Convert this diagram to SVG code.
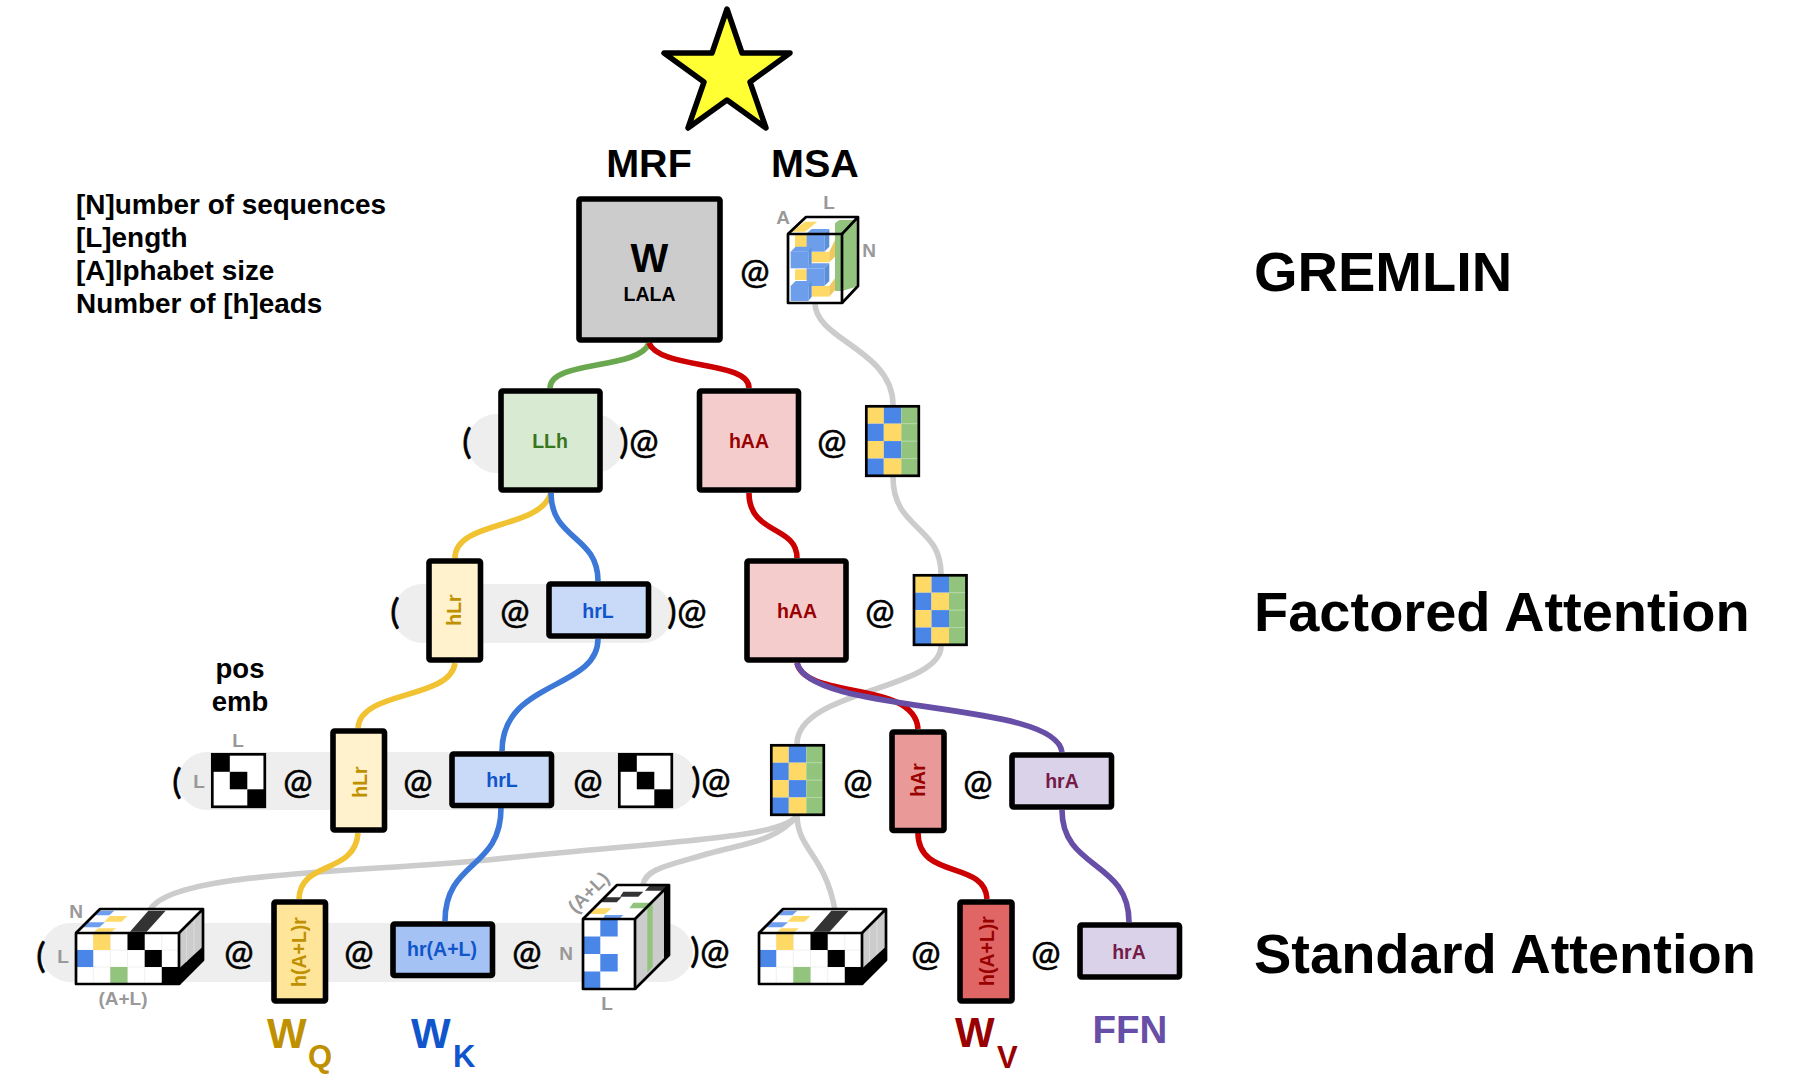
<svg xmlns="http://www.w3.org/2000/svg" xmlns:xlink="http://www.w3.org/1999/xlink" width="1804" height="1088" viewBox="0 0 1804 1088">
<style>
text{font-family:"Liberation Sans",Arial,sans-serif;font-weight:bold;text-anchor:middle}
.at{font-family:"Lato",sans-serif;font-weight:400;font-size:35px;fill:#000;stroke:#000;stroke-width:.6}
.title{font-size:39.5px;fill:#000}
.side{font-size:56px;text-anchor:start}
.info{font-size:27.9px;text-anchor:start}
.dim{font-size:19px;fill:#999}
.lab{font-size:19.5px}
.box{stroke:#000;stroke-width:5.6;stroke-linejoin:round}
.wire{fill:none;stroke-width:5.6;stroke-linecap:butt}
.pill{fill:#eeeeee}
.o{fill:none;stroke:#000;stroke-width:2.7;stroke-linejoin:round}
.big{font-size:42px;text-anchor:start}
.sub{font-size:31px;text-anchor:start}
.y{fill:#ffd966}.b{fill:#4a86e8}.g{fill:#93c47d}
.grid{fill:none;stroke:#000;stroke-width:2.7}
</style>
<defs>
<g id="seq">
<rect width="52.5" height="69.5" fill="#fff"/>
<rect class="y" x="0" y="0" width="17.5" height="17.4"/><rect class="b" x="17.5" y="0" width="17.5" height="17.4"/><rect class="g" x="35" y="0" width="17.5" height="17.4"/>
<rect class="b" x="0" y="17.4" width="17.5" height="17.4"/><rect class="y" x="17.5" y="17.4" width="17.5" height="17.4"/><rect class="g" x="35" y="17.4" width="17.5" height="17.4"/>
<rect class="y" x="0" y="34.8" width="17.5" height="17.4"/><rect class="b" x="17.5" y="34.8" width="17.5" height="17.4"/><rect class="g" x="35" y="34.8" width="17.5" height="17.4"/>
<rect class="b" x="0" y="52.2" width="17.5" height="17.3"/><rect class="y" x="17.5" y="52.2" width="17.5" height="17.3"/><rect class="g" x="35" y="52.2" width="17.5" height="17.3"/>
<path d="M35 17.4H52.5M35 34.8H52.5M35 52.2H52.5" stroke="#b6d7a8" stroke-width="1" fill="none"/>
<rect class="grid" width="52.5" height="69.5"/>
</g>
<g id="pos">
<rect width="52.5" height="52.5" fill="#fff"/>
<rect x="0" y="0" width="17.5" height="17.5"/><rect x="17.5" y="17.5" width="17.5" height="17.5"/><rect x="35" y="35" width="17.5" height="17.5"/>
<rect class="grid" width="52.5" height="52.5"/>
</g>
<g id="cubeWide">
<polygon points="0,0 103,0 127,-24 24,-24" fill="#fff"/>
<g transform="translate(-56 -53) scale(.3333)">
<polygon class="b" opacity=".8" points="240,92 283,92 268,106 225,106"/>
<polygon class="y" points="270,108 322,108 305,125 253,125"/>
<polygon class="b" opacity=".8" points="205,127 255,127 238,142 188,142"/>
<polygon class="y" points="235,145 288,145 275,155 222,155"/>
<polygon fill="#333" points="330,155 380,155 437,92 385,92"/>
<polygon fill="#ccc" points="478,158 548,87 548,200 478,265"/>
<polygon fill="#000" points="478,265 548,200 548,240 478,313"/>
<path d="M500 135V245M522 112V222" stroke="#e4e4e4" stroke-width="2" fill="none"/>
</g>
<rect width="103" height="51" fill="#fff"/>
<path d="M17.2 0V51M34.3 0V51M51.5 0V51M68.7 0V51M85.8 0V51M0 17H103M0 34H103" stroke="#f0f0f0" stroke-width="1" fill="none"/>
<rect class="y" x="17.2" y="0" width="17.1" height="17"/>
<rect class="b" x="0" y="17" width="17.2" height="17"/>
<rect class="g" x="34.3" y="34" width="17.2" height="17"/>
<rect x="51.5" y="0" width="17.2" height="17"/><rect x="68.7" y="17" width="17.1" height="17"/><rect x="85.8" y="34" width="17.2" height="17"/>
<rect class="o" width="103" height="51"/>
<path class="o" d="M0 0L24 -24H127V27L103 51M103 0L127 -24"/>
</g>
</defs>
<rect width="1804" height="1088" fill="#fff"/>

<g id="pills">
<rect class="pill" x="467" y="414" width="157" height="59" rx="29.5"/>
<rect class="pill" x="393" y="584" width="279" height="59" rx="29.5"/>
<rect class="pill" x="178" y="752" width="519" height="58" rx="29"/>
<rect class="pill" x="41" y="923" width="652" height="59" rx="29.5"/>
</g>

<g id="connectors">
<g stroke="#cccccc" class="wire">
<path d="M815 303C815 340 893 350 893 405"/>
<path d="M893 477C893 530 941 525 941 574"/>
<path d="M941 646C941 690 797 690 797 744"/>
<path d="M797 816C780 838 680 840 487 860C350 873 170 872 150 910"/>
<path d="M797 816C775 842 745 843 700 856C665 866 645 870 643 885"/>
<path d="M797 816C798 850 825 855 835 910"/>
</g>
<path class="wire" stroke="#6aa84f" d="M649 343C640 370 550 360 550 388"/>
<path class="wire" stroke="#cc0000" d="M649 343C660 370 749 360 749 388"/>
<path class="wire" stroke="#f1c232" d="M551 493C540 530 455 520 455 558"/>
<path class="wire" stroke="#3c78d8" d="M551 493C551 540 598 535 598 581"/>
<path class="wire" stroke="#cc0000" d="M749 493C749 535 797 525 797 558"/>
<path class="wire" stroke="#f1c232" d="M455 663C450 700 360 690 358 728"/>
<path class="wire" stroke="#3c78d8" d="M598 639C598 690 502 680 502 751"/>
<path class="wire" stroke="#cc0000" d="M797 663C805 700 915 680 918 729"/>
<path class="wire" stroke="#674ea7" d="M797 663C810 715 1055 700 1062 752"/>
<path class="wire" stroke="#f1c232" d="M358 833C355 875 300 860 299 899"/>
<path class="wire" stroke="#3c78d8" d="M501 808C501 870 445 860 445 921"/>
<path class="wire" stroke="#cc0000" d="M918 833C918 880 985 860 987 899"/>
<path class="wire" stroke="#674ea7" d="M1062 810C1062 870 1129 860 1129 922"/>
</g>

<g id="star"><polygon points="727,9 742,53 790,53 750,82 766,128 727,100 688,128 704,82 664,53 712,53" fill="#ffff33" stroke="#000" stroke-width="5.5" stroke-linejoin="round"/></g>

<text class="title" x="649" y="177">MRF</text>
<text class="title" x="815" y="177">MSA</text>

<g id="legend">
<text class="info" x="76" y="214">[N]umber of sequences</text>
<text class="info" x="76" y="247">[L]ength</text>
<text class="info" x="76" y="280">[A]lphabet size</text>
<text class="info" x="76" y="313">Number of [h]eads</text>
</g>

<text class="title side" x="1254" y="291">GREMLIN</text>
<text class="title side" x="1254" y="631">Factored Attention</text>
<text class="title side" x="1254" y="973">Standard Attention</text>

<g id="node-W">
<rect class="box" x="579" y="199" width="141" height="141" fill="#cccccc" rx="1.5"/>
<text x="649.5" y="272" font-size="40">W</text>
<text x="649.5" y="301" font-size="19.5">LALA</text>
</g>
<text class="at" x="755" y="284">@</text>
<g id="node-msa-cube">
<polygon points="788,234 806,217 858,217 858,286 842,303 788,303" fill="#fff"/>
<g transform="translate(560 0) scale(.3333)">
<polygon class="y" points="695,695 735,665 772,665 735,695"/>
<polygon class="g" points="825,670 838,660 890,660 890,860 845,873 825,873"/>
<rect class="y" x="705" y="705" width="40" height="45"/>
<rect class="y" x="755" y="755" width="53" height="32"/><polygon fill="#f1c75f" points="808,755 825,720 825,770 808,787"/>
<rect class="y" x="705" y="808" width="40" height="32"/>
<rect class="y" x="755" y="858" width="53" height="32"/><polygon fill="#f1c75f" points="808,858 825,835 825,870 808,890"/>
<polygon fill="#6d9eeb" points="740,700 755,687 808,687 793,700"/><polygon fill="#5b8fd8" points="793,700 808,687 808,740 793,755"/><rect fill="#6d9eeb" x="740" y="700" width="53" height="55"/>
<polygon fill="#6d9eeb" points="692,755 707,740 755,740 745,755"/><polygon fill="#5b8fd8" points="745,755 755,740 755,790 745,805"/><rect fill="#6d9eeb" x="692" y="755" width="53" height="50"/>
<polygon fill="#6d9eeb" points="740,805 755,790 808,790 793,805"/><polygon fill="#5b8fd8" points="793,805 808,790 808,843 793,858"/><rect fill="#6d9eeb" x="740" y="805" width="53" height="53"/>
<polygon fill="#6d9eeb" points="692,858 707,843 755,843 745,858"/><polygon fill="#5b8fd8" points="745,858 755,843 755,890 745,903"/><rect fill="#6d9eeb" x="692" y="858" width="53" height="45"/>
</g>
<rect class="o" x="788" y="234" width="54" height="69"/>
<path class="o" d="M788 234L806 217H858V286L842 303M842 234L858 217"/>
<text class="dim" x="783" y="224">A</text>
<text class="dim" x="829" y="209">L</text>
<text class="dim" x="869" y="257">N</text>
</g>

<text class="at" x="467" y="454">(</text>
<g id="node-LLh">
<rect class="box" x="501" y="391" width="99" height="99" fill="#d9ead3" rx="1.5"/>
<text class="lab" x="550" y="448" fill="#38761d">LLh</text>
</g>
<text class="at" x="624" y="454">)</text><text class="at" x="644" y="454">@</text>
<g id="node-hAA-1">
<rect class="box" x="699.5" y="391" width="99" height="99" fill="#f4cccc" rx="1.5"/>
<text class="lab" x="749" y="448" fill="#990000">hAA</text>
</g>
<text class="at" x="832" y="454">@</text>
<use id="node-seq-1" href="#seq" xlink:href="#seq" x="866.3" y="406.3"/>

<text class="at" x="395" y="624">(</text>
<g id="node-hLr-1">
<rect class="box" x="429" y="561" width="51.5" height="99" fill="#fff2cc" rx="1.5"/>
<text class="lab" transform="translate(461 610) rotate(-90)" fill="#bf9000">hLr</text>
</g>
<text class="at" x="515" y="624">@</text>
<g id="node-hrL-1">
<rect class="box" x="549" y="584" width="99.5" height="52" fill="#c9daf8" rx="1.5"/>
<text class="lab" x="598" y="618" fill="#1155cc">hrL</text>
</g>
<text class="at" x="672" y="624">)</text><text class="at" x="692" y="624">@</text>
<g id="node-hAA-2">
<rect class="box" x="747" y="561" width="99" height="99" fill="#f4cccc" rx="1.5"/>
<text class="lab" x="797" y="618" fill="#990000">hAA</text>
</g>
<text class="at" x="880" y="624">@</text>
<use id="node-seq-2" href="#seq" xlink:href="#seq" x="914" y="575.3"/>

<g id="pos-label">
<text x="240" y="678" font-size="27.5" fill="#000">pos</text>
<text x="240" y="711" font-size="27.5" fill="#000">emb</text>
</g>
<text class="at" x="177" y="794">(</text>
<text class="dim" x="238" y="747">L</text>
<text class="dim" x="199" y="788">L</text>
<use id="node-pos-1" href="#pos" xlink:href="#pos" x="212.3" y="754.3"/>
<text class="at" x="298" y="794">@</text>
<g id="node-hLr-2">
<rect class="box" x="333" y="731" width="51.5" height="99" fill="#fff2cc" rx="1.5"/>
<text class="lab" transform="translate(367 782) rotate(-90)" fill="#bf9000">hLr</text>
</g>
<text class="at" x="418" y="794">@</text>
<g id="node-hrL-2">
<rect class="box" x="452" y="754" width="99.5" height="51.5" fill="#c9daf8" rx="1.5"/>
<text class="lab" x="502" y="787" fill="#1155cc">hrL</text>
</g>
<text class="at" x="588" y="794">@</text>
<use id="node-pos-2" href="#pos" xlink:href="#pos" x="619.3" y="754.3"/>
<text class="at" x="696" y="793">)</text><text class="at" x="716" y="793">@</text>
<use id="node-seq-3" href="#seq" xlink:href="#seq" x="771.3" y="745.3"/>
<text class="at" x="858" y="794">@</text>
<g id="node-hAr">
<rect class="box" x="892" y="732" width="52" height="98.5" fill="#ea9999" rx="1.5"/>
<text class="lab" transform="translate(925 780) rotate(-90)" fill="#990000">hAr</text>
</g>
<text class="at" x="978" y="795">@</text>
<g id="node-hrA-1">
<rect class="box" x="1012" y="755" width="99.5" height="52" fill="#d9d2e9" rx="1.5"/>
<text class="lab" x="1062" y="788" fill="#741b47">hrA</text>
</g>

<text class="at" x="41" y="968">(</text>
<text class="dim" x="76" y="918">N</text>
<text class="dim" x="63" y="963">L</text>
<use id="node-cube-1" href="#cubeWide" xlink:href="#cubeWide" x="76" y="933"/>
<text class="dim" x="123" y="1005">(A+L)</text>
<text class="at" x="239" y="965">@</text>
<g id="node-WQ">
<rect class="box" x="274" y="902" width="51.5" height="99" fill="#ffe599" rx="1.5"/>
<text class="lab" transform="translate(305.5 952) rotate(-90)" fill="#bf9000">h(A+L)r</text>
</g>
<text class="at" x="359" y="965">@</text>
<g id="node-WK">
<rect class="box" x="393" y="924" width="99.5" height="51.5" fill="#a4c2f4" rx="1.5"/>
<text class="lab" x="442" y="956" fill="#1155cc">hr(A+L)</text>
</g>
<text class="at" x="527" y="965">@</text>
<text class="dim" x="566" y="960">N</text>
<g id="node-cube-2">
<polygon points="583,919 617,885 669,885 669,955 635,989 583,989" fill="#fff"/>
<g transform="translate(540 860) scale(.3333)">
<polygon fill="#333" points="330,75 385,75 365,92 315,92"/>
<polygon fill="#333" points="250,95 310,95 295,110 240,110"/>
<polygon fill="#333" points="195,112 245,112 230,127 185,127"/>
<polygon class="g" points="280,128 330,128 315,145 268,145"/>
<polygon class="y" points="165,145 215,145 195,162 150,162"/>
<polygon class="b" opacity=".8" points="195,165 250,165 240,175 190,175"/>
<polygon fill="#ccc" points="285,178 387,75 387,285 285,388"/>
<polygon class="g" points="322,140 338,125 338,320 322,338"/>
<polygon fill="#000" points="372,88 387,75 387,285 372,300"/>
</g>
<rect x="583" y="919" width="52" height="70" fill="#fff"/>
<rect class="b" x="600.3" y="919" width="17.4" height="17.5"/>
<rect class="b" x="583" y="936.5" width="17.3" height="17.5"/>
<rect class="b" x="600.3" y="954" width="17.4" height="17.5"/>
<rect class="b" x="583" y="971.5" width="17.3" height="17.5"/>
<rect class="o" x="583" y="919" width="52" height="70"/>
<path class="o" d="M583 919L617 885H669V955L635 989M635 919L669 885"/>
</g>
<text class="dim" x="607" y="1010">L</text>
<text class="dim" transform="translate(593 897) rotate(-45)">(A+L)</text>
<text class="at" x="695" y="963">)</text><text class="at" x="715" y="964">@</text>
<use id="node-cube-3" href="#cubeWide" xlink:href="#cubeWide" x="759" y="933"/>
<text class="at" x="926" y="966">@</text>
<g id="node-WV">
<rect class="box" x="960" y="902" width="52" height="99" fill="#e06666" rx="1.5"/>
<text class="lab" transform="translate(994 951) rotate(-90)" fill="#990000">h(A+L)r</text>
</g>
<text class="at" x="1046" y="966">@</text>
<g id="node-FFN">
<rect class="box" x="1080" y="925" width="99.5" height="52" fill="#d9d2e9" rx="1.5"/>
<text class="lab" x="1129" y="959" fill="#741b47">hrA</text>
</g>

<g id="outputs">
<text class="big" x="267" y="1048" fill="#bf9000">W</text><text class="sub" x="308" y="1067" fill="#bf9000">Q</text>
<text class="big" x="411" y="1048" fill="#1155cc">W</text><text class="sub" x="453" y="1067" fill="#1155cc">K</text>
<text class="big" x="955" y="1047" fill="#990000">W</text><text class="sub" x="997" y="1068" fill="#990000">V</text>
<text x="1130" y="1043" font-size="38.5" fill="#674ea7">FFN</text>
</g>
</svg>
